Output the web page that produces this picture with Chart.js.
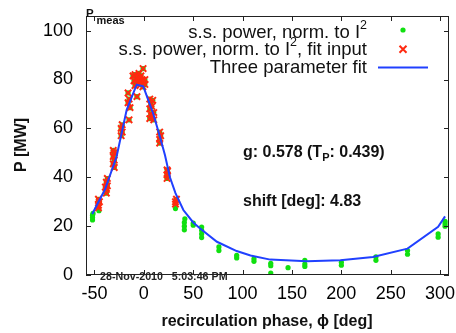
<!DOCTYPE html>
<html><head><meta charset="utf-8">
<script src="https://cdn.jsdelivr.net/npm/chart.js@4/dist/chart.umd.min.js"></script>
<style>html,body{margin:0;padding:0;background:#fff;}canvas{display:block;}</style>
</head><body>
<canvas id="c" width="456" height="333"></canvas>
<script>
const xTicks = [-50, 0, 50, 100, 150, 200, 250, 300];
const yTicks = [0, 20, 40, 60, 80, 100];

// measured points not used as fit input (green only)
const measPhase = [-52, -52, -52, -51.5, -45.5, 32, 41, 41, 41, 41.5, 50, 50, 58.5, 58.5, 58.5, 58.5, 76, 76, 94, 94, 111.5, 111.5, 128.5, 128.5, 128.5, 146, 163, 163, 163, 200, 200, 235, 235, 267, 267, 298, 298, 305, 305, 305];
const measPower = [22.5, 23.5, 24.5, 25.2, 26.3, 27.2, 18.5, 20, 21.5, 23, 20.4, 21.2, 15.3, 16.8, 18.3, 19.6, 10, 11.5, 7, 8, 5.6, 6.6, 0.8, 3.8, 4.8, 3, 3.5, 4.5, 6, 4, 5.2, 6, 7.4, 8.5, 10, 15.5, 16.8, 20, 21, 22];

// measured points used as fit input (red crosses)
const fitInPhase = [-46, -46, -45, -46, -38, -38, -37, -38, -37, -39, -30, -31, -30, -31, -30, -31, -23, -22, -23, -22, -15, -14, -16, -15, -16, -11, -10, -9, -8, -9, -7, -7, -6, -5, -4, -5, -3, -2, -3, -1, -1, -0.8, 1, 1, 6, 7, 6, 7, 6, 8, 8, 9, 10, 10, 16, 16, 17, 16, 23.5, 23.5, 24, 23.5, 32, 32, 33];
const fitInPower = [27.5, 28.5, 30, 31, 33.5, 35, 36.5, 38, 39.5, 36, 44, 45.5, 47, 48.5, 50, 51, 57, 58.5, 60, 61.5, 63.5, 68.5, 70.5, 72, 74.5, 81.5, 79.5, 77.5, 80, 82, 73, 78.5, 81, 79, 80.5, 82.5, 78, 80, 81.5, 77, 79.5, 84.5, 78, 80, 64, 66, 68, 70, 72, 65, 69, 71.5, 63.5, 66.5, 54, 55.5, 57, 58.5, 39.5, 41, 42.5, 43, 29, 30, 31];

// three parameter fit curve
const fitPhase = [-52.3, -39.4, -27.6, -17.4, -7.3, -0.6, 9.5, 16, 21.4, 26.4, 32, 40, 50, 57, 74, 94, 108, 128, 165, 199, 232, 267, 298, 305];
const fitPower = [25, 35, 48.5, 67.6, 77.9, 77.2, 66, 57, 49, 40, 33.5, 26.6, 21.5, 19, 13.6, 9.8, 8, 6.3, 5.6, 6, 7.4, 10.8, 19.7, 24];

const legendLabels = ['s.s. power, norm. to I', 's.s. power, norm. to I', 'Three parameter fit'];

const GREEN = '#10e010', RED = '#ff2a10', BLUE = '#2040ff', INK = '#111';
const FONT = '"Liberation Sans", Arial, Helvetica, sans-serif';

const pts = (xs, ys) => xs.map((v, i) => ({x: v, y: ys[i]}));

const deco = {
  id: 'deco',
  afterDraw(chart) {
    const {ctx, chartArea: a, scales: {x, y}} = chart;
    ctx.save();
    ctx.strokeStyle = '#222'; ctx.lineWidth = 1;
    ctx.strokeRect(a.left + 0.5, a.top + 0.5, a.right - a.left - 1, a.bottom - a.top - 1);
    ctx.beginPath();
    xTicks.forEach(v => {
      const px = Math.round(x.getPixelForValue(v)) + 0.5;
      ctx.moveTo(px, a.bottom); ctx.lineTo(px, a.bottom - 5);
      ctx.moveTo(px, a.top); ctx.lineTo(px, a.top + 5);
    });
    yTicks.forEach(v => {
      const py = Math.round(y.getPixelForValue(v)) + 0.5;
      ctx.moveTo(a.left, py); ctx.lineTo(a.left + 5, py);
      ctx.moveTo(a.right, py); ctx.lineTo(a.right - 5, py);
    });
    ctx.stroke();

    // legend
    ctx.fillStyle = INK; ctx.textBaseline = 'alphabetic'; ctx.textAlign = 'left';
    const mainF = '18.5px ' + FONT, supF = '12.5px ' + FONT;
    const rx = 367;
    function row(main, sup, tail, base) {
      ctx.font = mainF; const wm = ctx.measureText(main).width; const wt = ctx.measureText(tail).width;
      ctx.font = supF; const ws = sup ? ctx.measureText(sup).width : 0;
      let sx = rx - wm - ws - wt;
      ctx.font = mainF; ctx.fillText(main, sx, base);
      if (sup) { ctx.font = supF; ctx.fillText(sup, sx + wm, base - 9); }
      ctx.font = mainF; ctx.fillText(tail, sx + wm + ws, base);
    }
    row(legendLabels[0], '2', '', 37.5);
    row(legendLabels[1], '2', ', fit input', 55.3);
    row(legendLabels[2], '', '', 73.3);
    ctx.fillStyle = GREEN; ctx.beginPath(); ctx.arc(403, 30, 2.6, 0, Math.PI * 2); ctx.fill();
    ctx.strokeStyle = RED; ctx.lineWidth = 2; ctx.beginPath();
    ctx.moveTo(399.5, 45.8); ctx.lineTo(406.5, 52.8); ctx.moveTo(406.5, 45.8); ctx.lineTo(399.5, 52.8); ctx.stroke();
    ctx.strokeStyle = BLUE; ctx.lineWidth = 2; ctx.beginPath(); ctx.moveTo(378, 67.5); ctx.lineTo(428, 67.5); ctx.stroke();

    // annotations
    ctx.fillStyle = INK;
    ctx.font = 'bold 16px ' + FONT;
    let s1 = 'g: 0.578 (T'; ctx.fillText(s1, 243, 157);
    let w1 = ctx.measureText(s1).width;
    ctx.font = 'bold 11px ' + FONT; ctx.fillText('P', 243 + w1, 161);
    let w2 = ctx.measureText('P').width;
    ctx.font = 'bold 16px ' + FONT; ctx.fillText(': 0.439)', 243 + w1 + w2, 157);
    ctx.fillText('shift [deg]: 4.83', 243, 206);

    // P_meas
    ctx.font = 'bold 11.5px ' + FONT; ctx.fillText('P', 86, 16.5);
    ctx.font = 'bold 11px ' + FONT; ctx.fillText('meas', 96.5, 24);

    // date stamp
    ctx.fillStyle = '#222';
    ctx.font = 'bold 10.7px ' + FONT;
    ctx.fillText('28-Nov-2010', 100, 280);
    ctx.fillText('5:03:46 PM', 171.7, 280);

    // axis titles
    ctx.fillStyle = INK;
    ctx.font = 'bold 16px ' + FONT;
    ctx.textAlign = 'center';
    ctx.fillText('recirculation phase, \u03D5 [deg]', 267, 326);
    ctx.translate(26, 145); ctx.rotate(-Math.PI / 2);
    ctx.fillText('P [MW]', 0, 0);
    ctx.restore();
  }
};

new Chart(document.getElementById('c'), {
  type: 'scatter',
  data: {
    datasets: [
      {label: 'Three parameter fit', type: 'line', data: pts(fitPhase, fitPower), borderColor: BLUE, borderWidth: 2, pointRadius: 0, tension: 0, fill: false, order: 0},
      {label: 'fit input', data: pts(fitInPhase, fitInPower), pointStyle: 'crossRot', pointRadius: 4.5, borderColor: RED, backgroundColor: RED, pointBorderWidth: 2, order: 1},
      {label: 'meas', data: pts(measPhase.concat(fitInPhase), measPower.concat(fitInPower)), pointStyle: 'circle', pointRadius: 2.6, borderWidth: 0, backgroundColor: GREEN, borderColor: GREEN, order: 2}
    ]
  },
  options: {
    responsive: false, animation: false, devicePixelRatio: 1,
    layout: {padding: {top: 16, right: 7, left: 0, bottom: 0}},
    plugins: {legend: {display: false}, tooltip: {enabled: false}},
    scales: {
      x: {
        type: 'linear', min: -58.6, max: 309,
        grid: {display: false, drawTicks: false}, border: {display: false},
        afterBuildTicks: s => { s.ticks = xTicks.map(v => ({value: v})); },
        afterFit: s => { s.height = 58; s.paddingLeft = 0; s.paddingRight = 0; s.paddingTop = 0; s.paddingBottom = 0; },
        ticks: {color: '#000', font: {family: FONT, size: 18}, padding: 8, maxRotation: 0, autoSkip: false}
      },
      y: {
        min: 0, max: 106,
        grid: {display: false, drawTicks: false}, border: {display: false},
        afterBuildTicks: s => { s.ticks = yTicks.map(v => ({value: v})); },
        afterFit: s => { s.width = 86; s.paddingLeft = 0; s.paddingRight = 0; s.paddingTop = 0; s.paddingBottom = 0; },
        ticks: {color: '#000', font: {family: FONT, size: 18}, padding: 13}
      }
    }
  },
  plugins: [deco]
});
</script>
</body></html>
